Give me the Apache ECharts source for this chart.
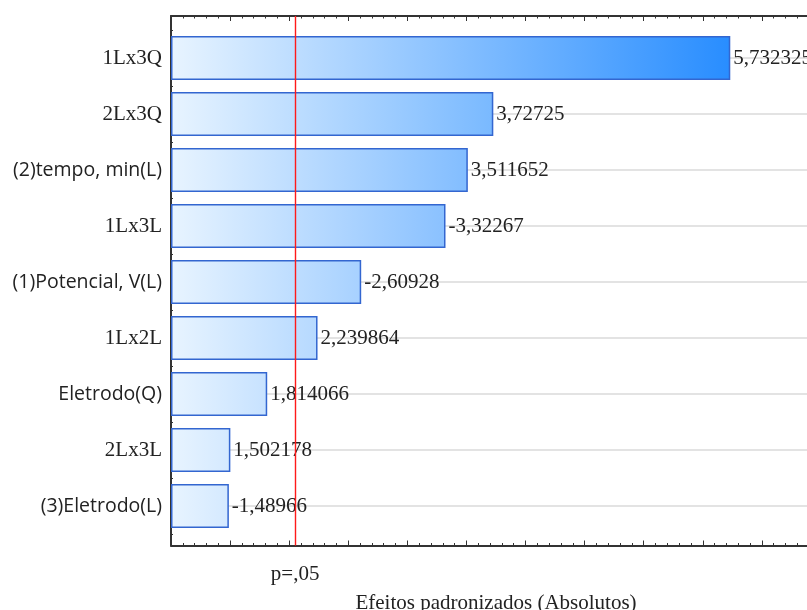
<!DOCTYPE html>
<html><head><meta charset="utf-8">
<script src="https://cdn.jsdelivr.net/npm/echarts@6/dist/echarts.min.js"></script>
<style>html,body{margin:0;padding:0;background:#fff}#c{width:807px;height:610px}</style>
</head><body><div id="c"></div>
<script>
const categories = ['1Lx3Q', '2Lx3Q', '(2)tempo, min(L)', '1Lx3L', '(1)Potencial, V(L)', '1Lx2L', 'Eletrodo(Q)', '2Lx3L', '(3)Eletrodo(L)'];
const effects = [5.732325, 3.72725, 3.511652, -3.32267, -2.60928, 2.239864, 1.814066, 1.502178, -1.48966];
const pCritical = 2.0535;
const pLabel = 'p=,05';
const axisTitle = 'Efeitos padronizados (Absolutos)';
const xMin = 1, xMax = 6.5, xStep = 0.5;

const serif = '"Liberation Serif", "DejaVu Serif", serif';
const sans = '"Open Sans", "Noto Sans", sans-serif';
const txt = '#222';
const axisCol = '#333';

const c0 = [232, 244, 255], c1 = [40, 141, 255];
const maxAbs = Math.max(...effects.map(Math.abs));
function colorAt(v) {
  const t = Math.max(0, Math.min(1, (v - xMin) / (maxAbs - xMin)));
  const c = c0.map((a, i) => Math.round(a + (c1[i] - a) * t));
  return 'rgb(' + c.join(',') + ')';
}

const chart = echarts.init(document.getElementById('c'), null, {renderer: 'canvas'});
const xCommon = {
  type: 'value', min: xMin, max: xMax, interval: xStep,
  axisLine: {show: true, onZero: false, lineStyle: {color: axisCol, width: 2}},
  axisTick: {show: true, inside: true, length: 5, lineStyle: {color: axisCol, width: 1}},
  minorTick: {show: true, splitNumber: 5, length: 2.5, lineStyle: {color: axisCol, width: 1}},
  axisLabel: {show: false},
  splitLine: {show: false},
  minorSplitLine: {show: false}
};

chart.setOption({
  animation: false,
  backgroundColor: '#fff',
  grid: [
    {left: 171, width: 650, top: 58, height: 448, outerBoundsMode: 'none', containLabel: false},
    {left: 171, width: 650, top: 16, height: 529.5, outerBoundsMode: 'none', containLabel: false}
  ],
  xAxis: [
    Object.assign({}, xCommon, {gridIndex: 0, show: false, startValue: xMin}),
    Object.assign({}, xCommon, {gridIndex: 1, position: 'bottom',
      name: axisTitle, nameLocation: 'middle', nameGap: 47,
      nameTextStyle: {fontFamily: serif, fontSize: 21, color: txt}}),
    Object.assign({}, xCommon, {gridIndex: 1, position: 'top'})
  ],
  yAxis: [
    {
      type: 'category', gridIndex: 0, data: categories, inverse: true, boundaryGap: false,
      axisLine: {show: false},
      axisTick: {show: true, inside: true, length: 4, lineStyle: {color: axisCol, width: 1}},
      axisLabel: {
        margin: 9,
        formatter: v => (/^\dLx\d/.test(v) ? '{a|' + v + '}' : '{b|' + v + '}'),
        rich: {
          a: {fontFamily: serif, fontSize: 21, color: txt},
          b: {fontFamily: sans, fontSize: 19.5, color: txt}
        }
      },
      splitLine: {show: true, lineStyle: {color: '#dadada', width: 1.5}}
    },
    {
      type: 'value', gridIndex: 1, inverse: true, min: -0.75, max: 8.705, interval: 0.25,
      axisLine: {show: true, onZero: false, lineStyle: {color: axisCol, width: 2}},
      axisTick: {show: true, inside: true, length: 2, lineStyle: {color: axisCol, width: 1}},
      axisLabel: {show: false},
      splitLine: {show: false}
    }
  ],
  series: [
    {
      type: 'bar', xAxisIndex: 0, yAxisIndex: 0, clip: false,
      barWidth: 44,
      data: effects.map(v => Math.abs(v)),
      itemStyle: {
        borderColor: '#3366d0', borderWidth: 1.5,
        color: p => new echarts.graphic.LinearGradient(0, 0, 1, 0, [
          {offset: 0, color: colorAt(xMin)}, {offset: 1, color: colorAt(p.value)}
        ])
      },
      label: {
        show: true, position: 'right', distance: 3,
        fontFamily: serif, fontSize: 21, color: txt,
        formatter: p => String(effects[p.dataIndex]).replace('.', ',')
      },
      z: 3
    },
    {
      type: 'scatter', xAxisIndex: 1, yAxisIndex: 1, data: [], z: 10,
      markLine: {
        silent: true, symbol: ['none', 'none'], z: 10,
        lineStyle: {color: '#ff1a1a', width: 1.4, type: 'solid', opacity: 1},
        label: {show: true, position: 'end', distance: 18, formatter: pLabel,
          fontFamily: serif, fontSize: 21, color: txt},
        data: [{xAxis: pCritical}]
      }
    }
  ]
});
</script></body></html>
